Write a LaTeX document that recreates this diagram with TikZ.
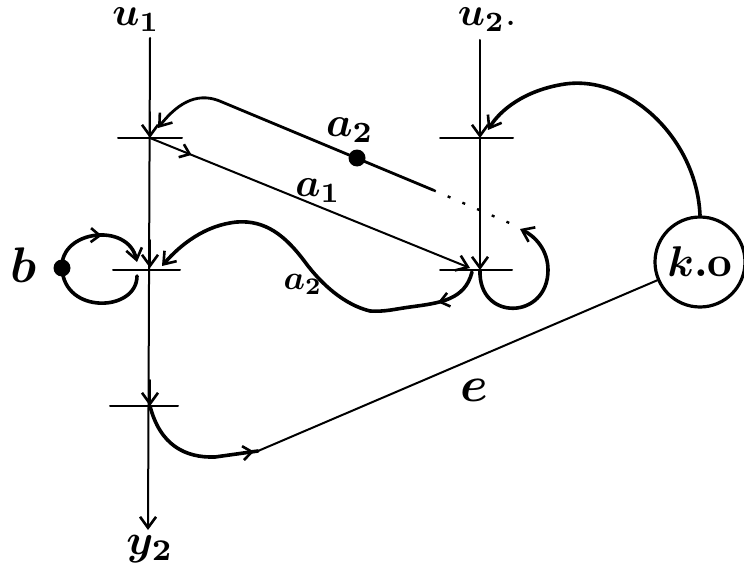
\documentclass[tikz,border=0pt]{standalone}
\usepackage{bm}
\usetikzlibrary{arrows.meta,decorations.markings}
\begin{document}
\begin{tikzpicture}[x=1pt,y=-1pt,
  thinline/.style={line width=2pt,line cap=round},
  thickline/.style={line width=3.6pt,line cap=round},
  tipend/.style={-{Straight Barb[length=11pt,width=16pt,line width=2.6pt]}},
  midtip/.style={postaction={decorate},decoration={markings,
     mark=at position #1 with {\arrow{Straight Barb[length=9pt,width=14pt,line width=2.6pt]}}}},
  lbl/.style={inner sep=0pt},
  dotnode/.style={circle,fill,inner sep=0pt,minimum size=17pt}]
\useasboundingbox (0,0) rectangle (744,567);

% coordinates
\coordinate (u1top) at (150,38);
\coordinate (u1bot) at (148,530);
\coordinate (J1) at (150,138);
\coordinate (J2) at (150,268);
\coordinate (J3) at (150,406);
\coordinate (u2top) at (480,40);
\coordinate (K1) at (480,138);
\coordinate (K2) at (480,270);

% labels
\node[lbl] (lu1) at (136,20) {\scalebox{4}{$\bm{u_1}$}};
\node[lbl] (lu2) at (487,20) {\scalebox{4}{$\bm{u_2}$.}};
\node[lbl] (ly) at (150,549) {\scalebox{4.3}{$\bm{y_2}$}};
\node[lbl] (lb) at (24,265) {\scalebox{5}{$\bm{b}$}};
\node[lbl] (la2t) at (350,130) {\scalebox{4.2}{$\bm{a_2}$}};
\node[lbl] (la1) at (318,191) {\scalebox{4}{$\bm{a_1}$}};
\node[lbl] (la2b) at (303,284) {\scalebox{3.4}{$\bm{a_2}$}};
\node[lbl] (le) at (474,390) {\scalebox{5}{$\bm{e}$}};

% k.o node
\node[draw,circle,line width=3.2pt,minimum size=90pt,inner sep=0pt] (K) at (700,262) {\scalebox{4.3}{$\bm{k.}$\textbf{o}}};

% vertical lines
\draw[thinline,tipend] (u1top) -- (u1bot);
\draw[thinline] (u2top) -- (K2);
% arrowheads on verticals at junctions
\draw[thinline,tipend] (150,112) -- (J1);
\draw[thinline,tipend] (150,240) -- (J2);
\draw[thinline,tipend] (150,380) -- (J3);
\draw[thinline,tipend] (480,112) -- (K1);
\draw[thinline,tipend] (480,244) -- (K2);

% ticks
\draw[thinline] (118,138) -- (182,138);
\draw[thinline] (113,270) -- (180,270);
\draw[thinline] (110,406) -- (178,406);
\draw[thinline] (440,138) -- (513,138);
\draw[thinline] (440,270) -- (512,270);

% a2 upper line with dot
\coordinate (a2s) at (433,190);
\draw[line width=2.8pt,line cap=round,tipend] (a2s) -- (222,102) .. controls (200,92) and (180,100) .. (158,128);
\node[dotnode] (d2) at (357,158) {};
\draw[line width=2.4pt,dash pattern=on 3pt off 13pt] (a2s) -- (514,225);

% loop at u2 lower junction
\draw[thickline,tipend] (K2) .. controls (478,322) and (548,320) .. (548,270) .. controls (548,250) and (535,236) .. (520,229);

% a1
\draw[thinline,tipend,midtip=0.13] (J1) -- (470,268);

% a2 lower curve
\draw[thickline,tipend,midtip=0.13] (472,272) .. controls (465,300) and (440,303) .. (410,307)
  .. controls (395,309) and (385,312) .. (370,311)
  .. controls (345,305) and (322,285) .. (305,262) .. controls (285,235) and (265,220) .. (237,222)
  .. controls (205,225) and (180,245) .. (162,266);

% b loop
\node[dotnode] (bd) at (62,268) {};
\draw[thickline,tipend,midtip=0.55] (bd.center) .. controls (60,230) and (128,222) .. (137,262);
\draw[thickline] (137,276) .. controls (137,312) and (64,315) .. (bd.center);

% e
\coordinate (eM) at (258,451);
\draw[thickline,midtip=0.97] (J3) .. controls (160,445) and (185,458) .. (215,457) -- (eM);
\draw[thinline] (eM) -- (K);

% arrow from K to u2 upper junction
\draw[thickline,tipend] (K.north) .. controls (697,140) and (630,75) .. (565,84) .. controls (525,90) and (500,110) .. (488,130);
\end{tikzpicture}
\end{document}
